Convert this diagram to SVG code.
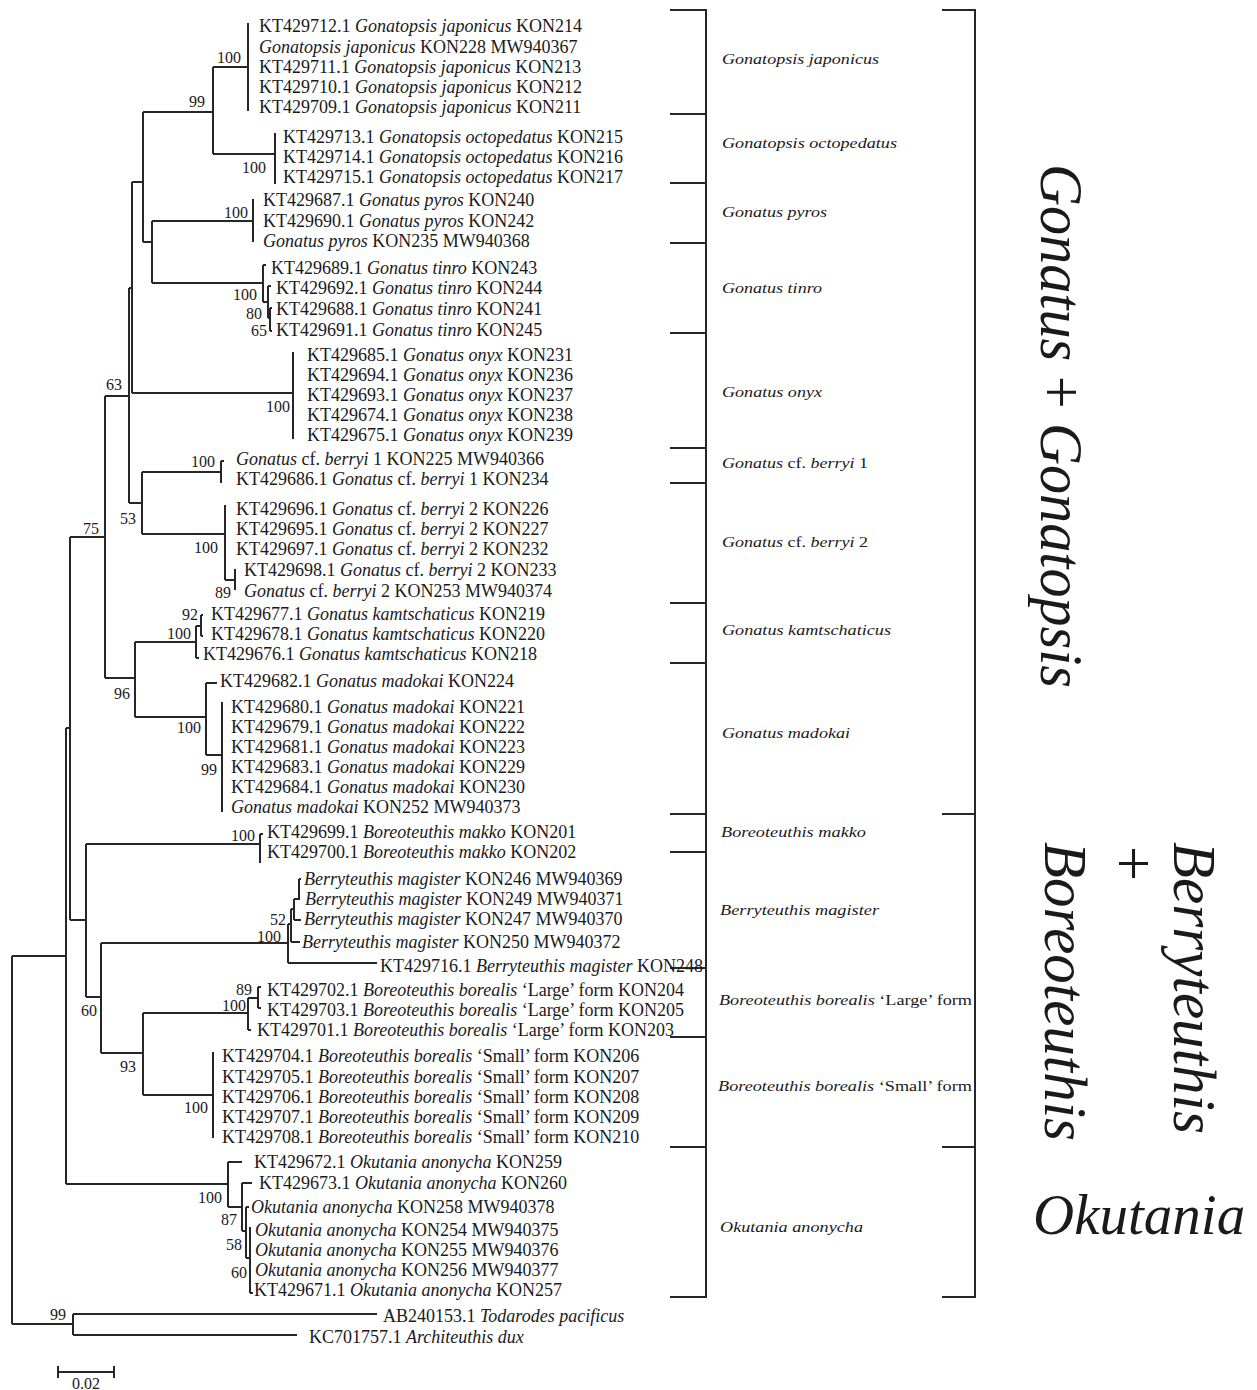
<svg xmlns="http://www.w3.org/2000/svg" width="1257" height="1390" viewBox="0 0 1257 1390">
<style>
text{font-family:"Liberation Serif","Times New Roman",serif;fill:#1a1a1a}
.t{font-size:18px}
.i{font-style:italic}
.r{font-style:normal}
.b{font-size:16px;text-anchor:end}
.g{font-size:15px;font-style:italic}
.big{font-size:62px;font-style:italic}
.ln{fill:none;stroke:#262626;stroke-width:2}
</style>
<rect width="1257" height="1390" fill="#ffffff"/>
<g id="connectors" class="ln">
<path d="M213,67H248M248,23V111M143,112H213M213,67V154M213,154H275M275,133V184M132,182H143M143,112V242M143,242H152M152,221V283M152,221H253M253,199V242M152,283H263M263,265V302M263,265H266M263,302H268M268,286V318M268,286H271M268,318H270M270,308V331M270,308H272M270,331H272"/>
<path d="M132,182V393M132,393H293M293,352V439M129,288V503M129,288H132M105,396H129M129,503H142M142,472V534M142,472H221M221,461V483M221,461H224M142,534H225M225,505V580M225,580H235M235,569V590"/>
<path d="M70,537H105M105,396V678M105,678H135M135,642V717M135,642H196M196,626V658M196,658H199M196,626H201M201,615V636M201,615H203M201,636H203M135,717H206M206,683V755M206,683H217M206,755H222M222,702V812"/>
<path d="M70,537V920M66,728V1184M66,728H70M12,956H66M12,956V1324M12,1324H73M73,1314V1335M73,1314H377M73,1335H297"/>
<path d="M70,920H86M86,844V997M86,844H260M260,834V863M260,834H263M86,997H101M101,943V1053M101,943H288M288,924V963M288,963H377M288,924H291M291,909V942M291,942H300M291,909H294M294,899V920M294,920H301M294,899H299M299,879V900M299,879H301"/>
<path d="M101,1053H143M143,1013V1095M143,1013H248M248,998V1030M248,1030H251M248,998H258M258,987V1008M258,987H261M258,1008H261M143,1095H213M213,1052V1138"/>
<path d="M66,1184H228M228,1162V1207M228,1162H242M228,1207H242M242,1183V1231M242,1183H252M242,1231H246M246,1207V1258M246,1207H249M246,1258H250M250,1227V1293M250,1293H253"/>
<path d="M58,1372H114M58,1366V1378M114,1366V1378"/>
</g>
<g id="brackets" class="ln">
<path d="M670,10H706V1297H670M670,114H706M670,183H706M670,243H706M670,333H706M670,448H706M670,483H706M670,603H706M670,663H706M670,814H706M670,852H706M670,968H706M670,1037H706M670,1147H706"/>
<path d="M942,10H975V1297H942M942,814H975M942,1147H975"/>
</g>
<g id="bootstrap" class="b">
<text x="241" y="63">100</text><text x="205" y="107">99</text><text x="266" y="173">100</text><text x="248" y="218">100</text>
<text x="257" y="300">100</text><text x="262" y="319">80</text><text x="267" y="336">65</text><text x="122" y="390">63</text>
<text x="290" y="412">100</text><text x="215" y="467">100</text><text x="136" y="524">53</text><text x="99" y="534">75</text>
<text x="218" y="553">100</text><text x="231" y="598">89</text><text x="198" y="620">92</text><text x="191" y="639">100</text>
<text x="130" y="699">96</text><text x="201" y="733">100</text><text x="217" y="775">99</text><text x="255" y="841">100</text>
<text x="286" y="925">52</text><text x="281" y="942">100</text><text x="252" y="995">89</text><text x="246" y="1011">100</text>
<text x="97" y="1016">60</text><text x="136" y="1072">93</text><text x="208" y="1113">100</text><text x="222" y="1203">100</text>
<text x="237" y="1225">87</text><text x="242" y="1250">58</text><text x="247" y="1278">60</text><text x="66" y="1320">99</text>
</g>
<g id="leaves" class="t">
<g id="leaf01"><text x="259" y="32">KT429712.1 <tspan class="i">Gonatopsis japonicus</tspan> KON214</text></g>
<g id="leaf02"><text x="259" y="53"><tspan class="i">Gonatopsis japonicus</tspan> KON228 MW940367</text></g>
<g id="leaf03"><text x="259" y="73">KT429711.1 <tspan class="i">Gonatopsis japonicus</tspan> KON213</text></g>
<g id="leaf04"><text x="259" y="93">KT429710.1 <tspan class="i">Gonatopsis japonicus</tspan> KON212</text></g>
<g id="leaf05"><text x="259" y="113">KT429709.1 <tspan class="i">Gonatopsis japonicus</tspan> KON211</text></g>
<g id="leaf06"><text x="283" y="143">KT429713.1 <tspan class="i">Gonatopsis octopedatus</tspan> KON215</text></g>
<g id="leaf07"><text x="283" y="163">KT429714.1 <tspan class="i">Gonatopsis octopedatus</tspan> KON216</text></g>
<g id="leaf08"><text x="283" y="183">KT429715.1 <tspan class="i">Gonatopsis octopedatus</tspan> KON217</text></g>
<g id="leaf09"><text x="263" y="206">KT429687.1 <tspan class="i">Gonatus pyros</tspan> KON240</text></g>
<g id="leaf10"><text x="263" y="227">KT429690.1 <tspan class="i">Gonatus pyros</tspan> KON242</text></g>
<g id="leaf11"><text x="263" y="247"><tspan class="i">Gonatus pyros</tspan> KON235 MW940368</text></g>
<g id="leaf12"><text x="271" y="274">KT429689.1 <tspan class="i">Gonatus tinro</tspan> KON243</text></g>
<g id="leaf13"><text x="276" y="294">KT429692.1 <tspan class="i">Gonatus tinro</tspan> KON244</text></g>
<g id="leaf14"><text x="276" y="315">KT429688.1 <tspan class="i">Gonatus tinro</tspan> KON241</text></g>
<g id="leaf15"><text x="276" y="336">KT429691.1 <tspan class="i">Gonatus tinro</tspan> KON245</text></g>
<g id="leaf16"><text x="307" y="361">KT429685.1 <tspan class="i">Gonatus onyx</tspan> KON231</text></g>
<g id="leaf17"><text x="307" y="381">KT429694.1 <tspan class="i">Gonatus onyx</tspan> KON236</text></g>
<g id="leaf18"><text x="307" y="401">KT429693.1 <tspan class="i">Gonatus onyx</tspan> KON237</text></g>
<g id="leaf19"><text x="307" y="421">KT429674.1 <tspan class="i">Gonatus onyx</tspan> KON238</text></g>
<g id="leaf20"><text x="307" y="441">KT429675.1 <tspan class="i">Gonatus onyx</tspan> KON239</text></g>
<g id="leaf21"><text x="236" y="465"><tspan class="i">Gonatus</tspan> cf. <tspan class="i">berryi</tspan> 1 KON225 MW940366</text></g>
<g id="leaf22"><text x="236" y="485">KT429686.1 <tspan class="i">Gonatus</tspan> cf. <tspan class="i">berryi</tspan> 1 KON234</text></g>
<g id="leaf23"><text x="236" y="515">KT429696.1 <tspan class="i">Gonatus</tspan> cf. <tspan class="i">berryi</tspan> 2 KON226</text></g>
<g id="leaf24"><text x="236" y="535">KT429695.1 <tspan class="i">Gonatus</tspan> cf. <tspan class="i">berryi</tspan> 2 KON227</text></g>
<g id="leaf25"><text x="236" y="555">KT429697.1 <tspan class="i">Gonatus</tspan> cf. <tspan class="i">berryi</tspan> 2 KON232</text></g>
<g id="leaf26"><text x="244" y="576">KT429698.1 <tspan class="i">Gonatus</tspan> cf. <tspan class="i">berryi</tspan> 2 KON233</text></g>
<g id="leaf27"><text x="244" y="597"><tspan class="i">Gonatus</tspan> cf. <tspan class="i">berryi</tspan> 2 KON253 MW940374</text></g>
<g id="leaf28"><text x="211" y="620">KT429677.1 <tspan class="i">Gonatus kamtschaticus</tspan> KON219</text></g>
<g id="leaf29"><text x="211" y="640">KT429678.1 <tspan class="i">Gonatus kamtschaticus</tspan> KON220</text></g>
<g id="leaf30"><text x="203" y="660">KT429676.1 <tspan class="i">Gonatus kamtschaticus</tspan> KON218</text></g>
<g id="leaf31"><text x="220" y="687">KT429682.1 <tspan class="i">Gonatus madokai</tspan> KON224</text></g>
<g id="leaf32"><text x="231" y="713">KT429680.1 <tspan class="i">Gonatus madokai</tspan> KON221</text></g>
<g id="leaf33"><text x="231" y="733">KT429679.1 <tspan class="i">Gonatus madokai</tspan> KON222</text></g>
<g id="leaf34"><text x="231" y="753">KT429681.1 <tspan class="i">Gonatus madokai</tspan> KON223</text></g>
<g id="leaf35"><text x="231" y="773">KT429683.1 <tspan class="i">Gonatus madokai</tspan> KON229</text></g>
<g id="leaf36"><text x="231" y="793">KT429684.1 <tspan class="i">Gonatus madokai</tspan> KON230</text></g>
<g id="leaf37"><text x="231" y="813"><tspan class="i">Gonatus madokai</tspan> KON252 MW940373</text></g>
<g id="leaf38"><text x="267" y="838">KT429699.1 <tspan class="i">Boreoteuthis makko</tspan> KON201</text></g>
<g id="leaf39"><text x="267" y="858">KT429700.1 <tspan class="i">Boreoteuthis makko</tspan> KON202</text></g>
<g id="leaf40"><text x="304" y="885"><tspan class="i">Berryteuthis magister</tspan> KON246 MW940369</text></g>
<g id="leaf41"><text x="305" y="905"><tspan class="i">Berryteuthis magister</tspan> KON249 MW940371</text></g>
<g id="leaf42"><text x="304" y="925"><tspan class="i">Berryteuthis magister</tspan> KON247 MW940370</text></g>
<g id="leaf43"><text x="302" y="948"><tspan class="i">Berryteuthis magister</tspan> KON250 MW940372</text></g>
<g id="leaf44"><text x="380" y="972">KT429716.1 <tspan class="i">Berryteuthis magister</tspan> KON248</text></g>
<g id="leaf45"><text x="267" y="996">KT429702.1 <tspan class="i">Boreoteuthis borealis</tspan> ‘Large’ form KON204</text></g>
<g id="leaf46"><text x="267" y="1016">KT429703.1 <tspan class="i">Boreoteuthis borealis</tspan> ‘Large’ form KON205</text></g>
<g id="leaf47"><text x="257" y="1036">KT429701.1 <tspan class="i">Boreoteuthis borealis</tspan> ‘Large’ form KON203</text></g>
<g id="leaf48"><text x="222" y="1062">KT429704.1 <tspan class="i">Boreoteuthis borealis</tspan> ‘Small’ form KON206</text></g>
<g id="leaf49"><text x="222" y="1083">KT429705.1 <tspan class="i">Boreoteuthis borealis</tspan> ‘Small’ form KON207</text></g>
<g id="leaf50"><text x="222" y="1103">KT429706.1 <tspan class="i">Boreoteuthis borealis</tspan> ‘Small’ form KON208</text></g>
<g id="leaf51"><text x="222" y="1123">KT429707.1 <tspan class="i">Boreoteuthis borealis</tspan> ‘Small’ form KON209</text></g>
<g id="leaf52"><text x="222" y="1143">KT429708.1 <tspan class="i">Boreoteuthis borealis</tspan> ‘Small’ form KON210</text></g>
<g id="leaf53"><text x="254" y="1168">KT429672.1 <tspan class="i">Okutania anonycha</tspan> KON259</text></g>
<g id="leaf54"><text x="259" y="1189">KT429673.1 <tspan class="i">Okutania anonycha</tspan> KON260</text></g>
<g id="leaf55"><text x="251" y="1213"><tspan class="i">Okutania anonycha</tspan> KON258 MW940378</text></g>
<g id="leaf56"><text x="255" y="1236"><tspan class="i">Okutania anonycha</tspan> KON254 MW940375</text></g>
<g id="leaf57"><text x="255" y="1256"><tspan class="i">Okutania anonycha</tspan> KON255 MW940376</text></g>
<g id="leaf58"><text x="255" y="1276"><tspan class="i">Okutania anonycha</tspan> KON256 MW940377</text></g>
<g id="leaf59"><text x="254" y="1296">KT429671.1 <tspan class="i">Okutania anonycha</tspan> KON257</text></g>
<g id="leaf60"><text x="383" y="1322">AB240153.1 <tspan class="i">Todarodes pacificus</tspan></text></g>
<g id="leaf61"><text x="309" y="1343">KC701757.1 <tspan class="i">Architeuthis dux</tspan></text></g>
</g>
<g id="species-labels" class="g">
<text x="722" y="64" textLength="157" lengthAdjust="spacingAndGlyphs">Gonatopsis japonicus</text>
<text x="722" y="148" textLength="175" lengthAdjust="spacingAndGlyphs">Gonatopsis octopedatus</text>
<text x="722" y="217" textLength="105" lengthAdjust="spacingAndGlyphs">Gonatus pyros</text>
<text x="722" y="293" textLength="100" lengthAdjust="spacingAndGlyphs">Gonatus tinro</text>
<text x="722" y="397" textLength="100" lengthAdjust="spacingAndGlyphs">Gonatus onyx</text>
<text x="722" y="468" textLength="146" lengthAdjust="spacingAndGlyphs">Gonatus <tspan class="r">cf.</tspan> berryi <tspan class="r">1</tspan></text>
<text x="722" y="547" textLength="146" lengthAdjust="spacingAndGlyphs">Gonatus <tspan class="r">cf.</tspan> berryi <tspan class="r">2</tspan></text>
<text x="722" y="635" textLength="169" lengthAdjust="spacingAndGlyphs">Gonatus kamtschaticus</text>
<text x="722" y="738" textLength="128" lengthAdjust="spacingAndGlyphs">Gonatus madokai</text>
<text x="721" y="837" textLength="145" lengthAdjust="spacingAndGlyphs">Boreoteuthis makko</text>
<text x="720" y="915" textLength="159" lengthAdjust="spacingAndGlyphs">Berryteuthis magister</text>
<text x="719" y="1005" textLength="253" lengthAdjust="spacingAndGlyphs">Boreoteuthis borealis <tspan class="r">‘Large’ form</tspan></text>
<text x="718" y="1091" textLength="254" lengthAdjust="spacingAndGlyphs">Boreoteuthis borealis <tspan class="r">‘Small’ form</tspan></text>
<text x="720" y="1232" textLength="143" lengthAdjust="spacingAndGlyphs">Okutania anonycha</text>
</g>
<g id="group-labels" class="big">
<text transform="translate(1041,164) rotate(90)" textLength="524" lengthAdjust="spacingAndGlyphs">Gonatus <tspan class="r">+</tspan> Gonatopsis</text>
<text transform="translate(1174,842) rotate(90)" textLength="292" lengthAdjust="spacingAndGlyphs">Berryteuthis</text>
<text class="r" transform="translate(1113,846) rotate(90)">+</text>
<text transform="translate(1045,842) rotate(90)" textLength="299" lengthAdjust="spacingAndGlyphs">Boreoteuthis</text>
<text x="1033" y="1234" style="font-size:57px">Okutania</text>
</g>
<g id="scale-label"><text x="86" y="1389" style="font-size:16px;text-anchor:middle">0.02</text></g>
</svg>
